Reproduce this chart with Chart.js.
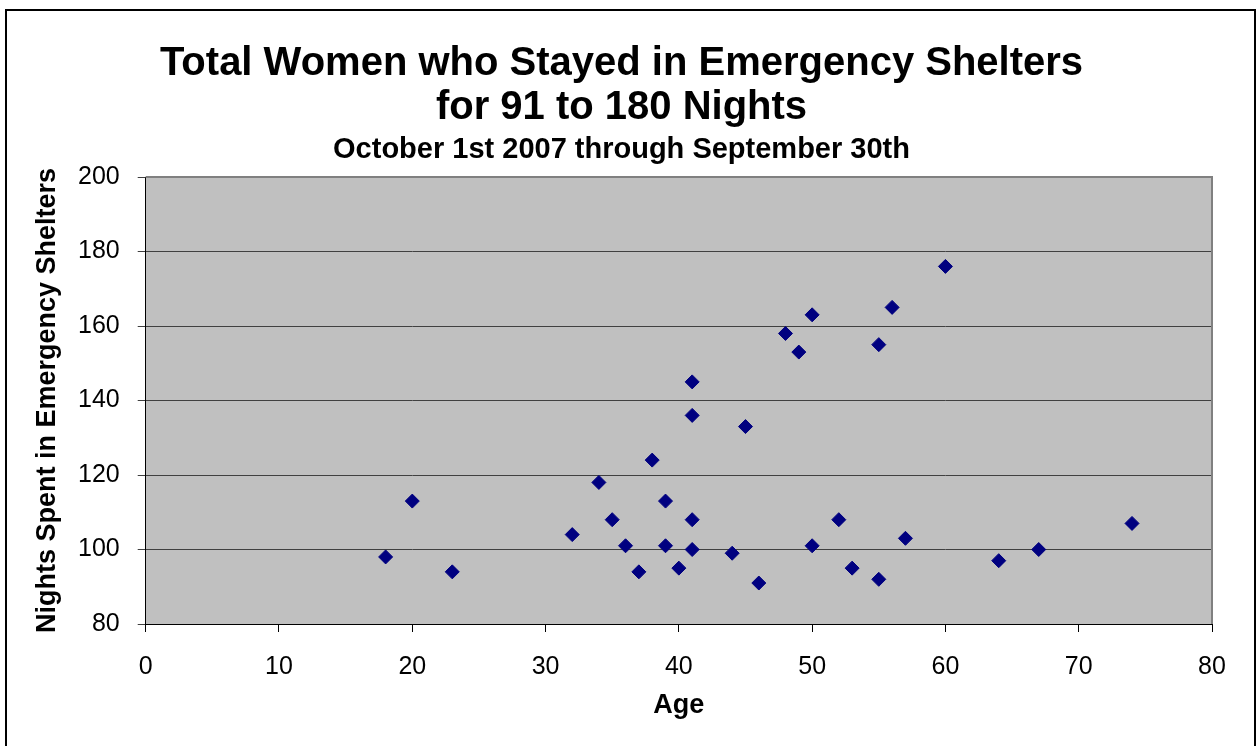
<!DOCTYPE html>
<html>
<head>
<meta charset="utf-8">
<script src="https://cdn.jsdelivr.net/npm/chart.js@4"></script>
<style>
  body { margin: 0; background: #fff; overflow: hidden; }
  #wrap { position: relative; width: 1258px; height: 746px; }
  #frame { position: absolute; left: 5px; top: 9px; width: 1247px; height: 760px; border: 2px solid #000; pointer-events: none; }
</style>
</head>
<body>
<div id="wrap">
  <canvas id="myChart" width="1258" height="746"></canvas>
  <div id="frame"></div>
</div>
<script>
// Ages of women and nights spent in shelters
const ages = [18, 20, 23, 32, 34, 35, 36, 37, 38, 39, 39, 40, 41, 41, 41, 41, 44, 45, 46, 48, 49, 50, 50, 52, 53, 55, 55, 56, 57, 60, 64, 67, 74];
const nights = [98, 113, 94, 104, 118, 108, 101, 94, 124, 113, 101, 95, 145, 136, 108, 100, 99, 133, 91, 158, 153, 163, 101, 108, 95, 155, 92, 165, 103, 176, 97, 100, 107];

const xTicks = [0, 10, 20, 30, 40, 50, 60, 70, 80];
const yTicks = [80, 100, 120, 140, 160, 180, 200];

const points = ages.map((a, i) => ({ x: a, y: nights[i] }));

// Grey plot area like the old Excel chart
const plotArea = {
    id: 'plotArea',
    beforeDraw(chart) {
        const { ctx, chartArea: a } = chart;
        ctx.save();
        ctx.fillStyle = '#c0c0c0';
        ctx.fillRect(a.left, a.top, a.right - a.left, a.bottom - a.top);
        ctx.restore();
    },
    afterDraw(chart) {
        const { ctx, chartArea: a } = chart;
        ctx.save();
        ctx.strokeStyle = '#808080';
        ctx.lineWidth = 2;
        ctx.beginPath();
        ctx.moveTo(a.left, a.top);
        ctx.lineTo(a.right, a.top);
        ctx.lineTo(a.right, a.bottom);
        ctx.stroke();
        ctx.restore();
    }
};

const font = "'Liberation Sans', Arial, sans-serif";
const ctx = document.getElementById('myChart').getContext('2d');
const myChart = new Chart(ctx, {
    type: 'scatter',
    data: {
        datasets: [{
            data: points,
            pointStyle: 'rectRot',
            pointRadius: 7,
            backgroundColor: '#000080',
            borderColor: '#000080',
            borderWidth: 1
        }]
    },
    options: {
        responsive: false,
        animation: false,
        layout: { padding: { top: 42, right: 46, bottom: 27, left: 31 } },
        plugins: {
            legend: { display: false },
            tooltip: { enabled: false },
            title: {
                display: true,
                text: ['Total Women who Stayed in Emergency Shelters', 'for 91 to 180 Nights'],
                color: '#000',
                font: { family: font, size: 40, weight: 'bold', lineHeight: 1.1 },
                padding: { top: 0, bottom: 5 }
            },
            subtitle: {
                display: true,
                text: 'October 1st 2007 through September 30th',
                color: '#000',
                font: { family: font, size: 29, weight: 'bold', lineHeight: 1.0 },
                padding: { top: 0, bottom: 13 }
            }
        },
        scales: {
            x: {
                type: 'linear',
                min: 0,
                max: 80,
                afterBuildTicks: (scale) => { scale.ticks = xTicks.map(v => ({ value: v })); },
                ticks: { color: '#000', font: { family: font, size: 25 }, padding: 20 },
                grid: { drawOnChartArea: false, drawTicks: true, tickLength: 8, color: '#000' },
                border: { color: '#000', width: 1 },
                title: {
                    display: true,
                    text: 'Age',
                    color: '#000',
                    font: { family: font, size: 27, weight: 'bold', lineHeight: 1.0 },
                    padding: { top: -10, bottom: 0 }
                }
            },
            y: {
                type: 'linear',
                min: 80,
                max: 200,
                afterBuildTicks: (scale) => { scale.ticks = yTicks.map(v => ({ value: v })); },
                ticks: { color: '#000', font: { family: font, size: 25 }, padding: 18 },
                grid: { color: '#404040', lineWidth: 1, tickLength: 8 },
                border: { color: '#000', width: 1 },
                title: {
                    display: true,
                    text: 'Nights Spent in Emergency Shelters',
                    color: '#000',
                    font: { family: font, size: 27, weight: 'bold', lineHeight: 1.0 },
                    padding: { top: 3, bottom: -1 }
                }
            }
        }
    },
    plugins: [plotArea]
});
</script>
</body>
</html>
